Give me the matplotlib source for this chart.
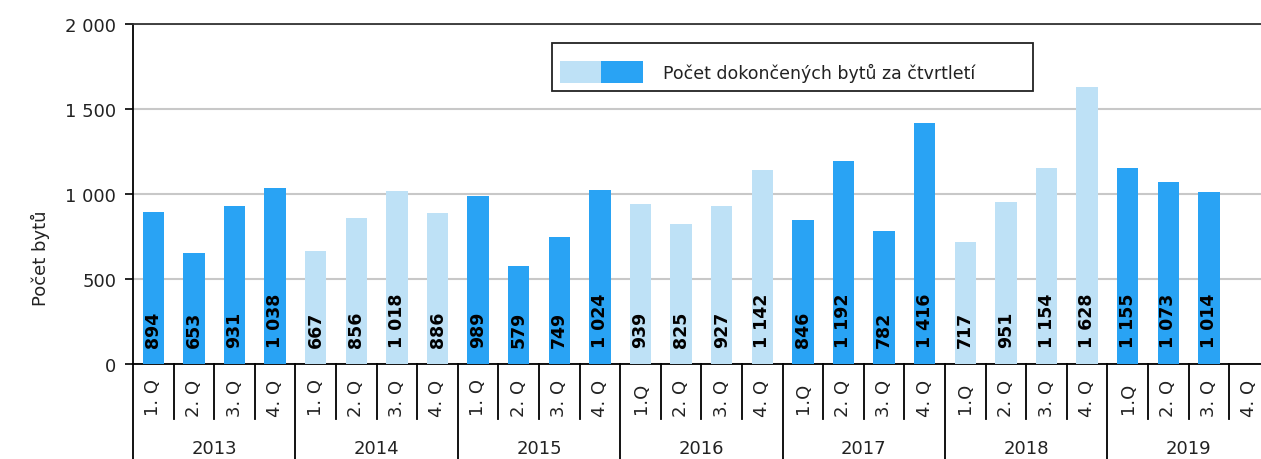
import matplotlib
matplotlib.use("Agg")
import matplotlib.pyplot as plt
from matplotlib.patches import Rectangle
from matplotlib.lines import Line2D

years = ["2013", "2014", "2015", "2016", "2017", "2018", "2019"]
quarter_labels = [
    "1. Q", "2. Q", "3. Q", "4. Q",
    "1. Q", "2. Q", "3. Q", "4. Q",
    "1. Q", "2. Q", "3. Q", "4. Q",
    "1.Q", "2. Q", "3. Q", "4. Q",
    "1.Q", "2. Q", "3. Q", "4. Q",
    "1.Q", "2. Q", "3. Q", "4. Q",
    "1.Q", "2. Q", "3. Q", "4. Q",
]
values = [
    894, 653, 931, 1038,
    667, 856, 1018, 886,
    989, 579, 749, 1024,
    939, 825, 927, 1142,
    846, 1192, 782, 1416,
    717, 951, 1154, 1628,
    1155, 1073, 1014, None,
]
legend_label = "Počet dokončených bytů za čtvrtletí"
y_label = "Počet bytů"
y_ticks = [0, 500, 1000, 1500, 2000]

DARK = "#29A3F4"
LIGHT = "#BEE1F6"

W, H = 1261, 460
fig = plt.figure(figsize=(W / 100, H / 100), dpi=100)
ax_left, ax_right, ax_top, ax_bottom = 133, 1261, 25, 365
ax = fig.add_axes([ax_left / W, (H - ax_bottom) / H, (ax_right - ax_left) / W,
                   (ax_bottom - ax_top) / H])

fmt = lambda v: f"{v:,}".replace(",", " ")

n = len(values)
cat_px = 40.6
ax.set_xlim(-0.5, -0.5 + (ax_right - ax_left) / cat_px)
ax.set_ylim(0, 2000)

for i, v in enumerate(values):
    if v is None:
        continue
    color = DARK if (i // 4) % 2 == 0 else LIGHT
    ax.bar(i, v, width=0.53, color=color, zorder=3)
    ax.annotate(fmt(v), xy=(i, 0), xytext=(0, 12), textcoords="offset points",
                rotation=90, ha="center", va="bottom", fontsize=12.5,
                fontweight="bold", color="black", zorder=4)

ax.set_yticks(y_ticks)
ax.set_yticklabels([fmt(t) for t in y_ticks], fontsize=13, color="#222222")
ax.tick_params(axis="y", direction="out", length=6, width=1.2, color="black", pad=6)
ax.set_xticks([])
ax.yaxis.grid(True, color="#C8C8C8", linewidth=1.5, zorder=0)
ax.set_axisbelow(True)
for s in ["left", "top", "bottom"]:
    ax.spines[s].set_color("black")
    ax.spines[s].set_linewidth(1.3)
ax.spines["right"].set_visible(False)
ax.spines["top"].set_color("#333333")

trans = ax.get_xaxis_transform()
h_ax = ax_bottom - ax_top
q_sep_bottom = -(420 - ax_bottom) / h_ax
y_sep_bottom = -(H - ax_bottom + 2) / h_ax
for k in range(n + 1):
    x = k - 0.5
    if k % 4 == 0:
        ax.add_line(Line2D([x, x], [0, y_sep_bottom], transform=trans,
                           color="black", linewidth=1.3, clip_on=False))
    else:
        ax.add_line(Line2D([x, x], [0, q_sep_bottom], transform=trans,
                           color="black", linewidth=1.3, clip_on=False))

q_y = -(398 - ax_bottom) / h_ax
for i, q in enumerate(quarter_labels):
    ax.text(i, q_y, q, transform=trans, rotation=90, ha="center", va="center",
            fontsize=13, color="#222222", clip_on=False)

yr_y = -(449 - ax_bottom) / h_ax
for j, yr in enumerate(years):
    ax.text(j * 4 + 1.5, yr_y, yr, transform=trans, ha="center", va="center",
            fontsize=13, color="#222222", clip_on=False)

fig.text(40 / W, 1 - 258 / H, y_label, rotation=90, ha="center", va="center",
         fontsize=13, color="#222222")

# legend box
lx0, lx1, ly0, ly1 = 552, 1033, 44, 92
fig.patches.append(Rectangle((lx0 / W, 1 - ly1 / H), (lx1 - lx0) / W, (ly1 - ly0) / H,
                             transform=fig.transFigure, facecolor="white",
                             edgecolor="#222222", linewidth=1.3, zorder=5))
fig.patches.append(Rectangle((560 / W, 1 - 84 / H), 41 / W, 22 / H,
                             transform=fig.transFigure, facecolor=LIGHT,
                             edgecolor="none", zorder=6))
fig.patches.append(Rectangle((601 / W, 1 - 84 / H), 42 / W, 22 / H,
                             transform=fig.transFigure, facecolor=DARK,
                             edgecolor="none", zorder=6))
fig.text(663 / W, 1 - 73 / H, legend_label, ha="left", va="center",
         fontsize=12.5, color="#222222", zorder=7)

fig.savefig("out.png", dpi=100)
